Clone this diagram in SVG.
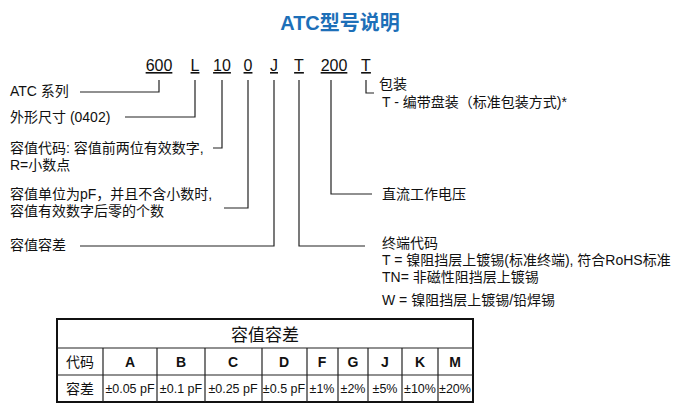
<svg xmlns="http://www.w3.org/2000/svg" width="680" height="413" viewBox="0 0 680 413">
<style>
text{font-family:"Liberation Sans","Noto Sans CJK SC",sans-serif;font-size:14px;fill:#111}
.c{font-size:16px;text-decoration:underline}
.m{text-anchor:middle}
.b{font-weight:bold}
.s{font-size:12.5px}
.ln{fill:none;stroke:#222;stroke-width:1.2}
</style>
<rect width="680" height="413" fill="#fff"/>
<text x="340" y="30" class="m b" style="font-size:20px;fill:#1d6fb8">ATC型号说明</text>
<g id="codes">
<text x="159" y="71" class="c m">600</text>
<text x="195" y="71" class="c m">L</text>
<text x="222" y="71" class="c m">10</text>
<text x="248" y="71" class="c m">0</text>
<text x="274" y="71" class="c m">J</text>
<text x="299" y="71" class="c m">T</text>
<text x="334" y="71" class="c m">200</text>
<text x="366" y="71" class="c m">T</text>
</g>
<g id="connectors" class="ln">
<polyline points="159,80 159,92 80,92"/>
<polyline points="195,80 195,117 125,117"/>
<polyline points="222,80 222,148 213,148"/>
<polyline points="248,80 248,208 224,208"/>
<polyline points="274,80 274,246 80,246"/>
<polyline points="299,80 299,246 365,246"/>
<polyline points="331,80 331,194 372,194"/>
<polyline points="366,80 366,93 374,93"/>
</g>
<g id="labels-left">
<text x="10" y="96">ATC 系列</text>
<text x="10" y="122">外形尺寸 (0402)</text>
<text x="10" y="153">容值代码: 容值前两位有效数字,</text>
<text x="10" y="170">R=小数点</text>
<text x="10" y="199">容值单位为pF，并且不含小数时,</text>
<text x="10" y="216">容值有效数字后零的个数</text>
<text x="10" y="250">容值容差</text>
</g>
<g id="labels-right">
<text x="379" y="89">包装</text>
<text x="382" y="107">T - 编带盘装（标准包装方式)*</text>
<text x="382" y="199">直流工作电压</text>
<text x="382" y="248">终端代码</text>
<text x="382" y="265">T = 镍阻挡层上镀锡(标准终端), 符合RoHS标准</text>
<text x="382" y="282">TN= 非磁性阻挡层上镀锡</text>
<text x="382" y="305">W = 镍阻挡层上镀锡/铅焊锡</text>
</g>
<g id="table">
<rect x="57" y="319" width="416" height="83" fill="none" stroke="#111" stroke-width="2"/>
<g class="ln">
<line x1="57" y1="348" x2="473" y2="348"/>
<line x1="57" y1="375" x2="473" y2="375"/>
<line x1="103" y1="348" x2="103" y2="402"/>
<line x1="157" y1="348" x2="157" y2="402"/>
<line x1="205" y1="348" x2="205" y2="402"/>
<line x1="262" y1="348" x2="262" y2="402"/>
<line x1="307" y1="348" x2="307" y2="402"/>
<line x1="338" y1="348" x2="338" y2="402"/>
<line x1="368" y1="348" x2="368" y2="402"/>
<line x1="402" y1="348" x2="402" y2="402"/>
<line x1="438" y1="348" x2="438" y2="402"/>
</g>
<text x="265" y="341" class="m" style="font-size:17px">容值容差</text>
<text x="80" y="367" class="m">代码</text>
<text x="130" y="367" class="m b">A</text>
<text x="181" y="367" class="m b">B</text>
<text x="233" y="367" class="m b">C</text>
<text x="284" y="367" class="m b">D</text>
<text x="322" y="367" class="m b">F</text>
<text x="353" y="367" class="m b">G</text>
<text x="385" y="367" class="m b">J</text>
<text x="420" y="367" class="m b">K</text>
<text x="455" y="367" class="m b">M</text>
<text x="80" y="394" class="m">容差</text>
<text x="130" y="393" class="m s">±0.05 pF</text>
<text x="181" y="393" class="m s">±0.1 pF</text>
<text x="233" y="393" class="m s">±0.25 pF</text>
<text x="284" y="393" class="m s">±0.5 pF</text>
<text x="322" y="393" class="m s">±1%</text>
<text x="353" y="393" class="m s">±2%</text>
<text x="385" y="393" class="m s">±5%</text>
<text x="420" y="393" class="m s">±10%</text>
<text x="455" y="393" class="m s">±20%</text>
</g>
</svg>
